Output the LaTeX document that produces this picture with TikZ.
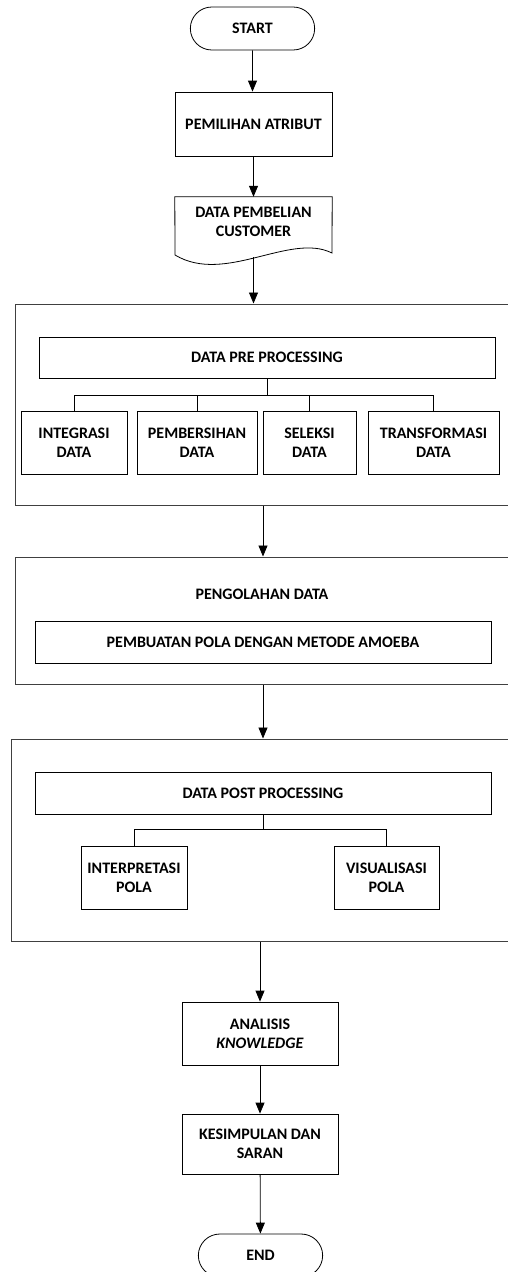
\documentclass[tikz,border=0pt]{standalone}
\usepackage{fontspec}
\setmainfont{Carlito}
\usetikzlibrary{arrows.meta,shapes.misc}

\tikzset{
  box/.style={draw, line width=0.8pt, align=center, inner sep=1pt},
  term/.style={draw, line width=0.8pt, rounded rectangle, minimum width=131, minimum height=43},
  outer/.style={draw=black!75, line width=1pt},
  arr/.style={-{Triangle[length=11pt,width=9pt]}, line width=0.8pt},
  bus/.style={line width=0.8pt}
}

\begin{document}
\begin{tikzpicture}[x=1pt, y=1pt, font=\fontsize{16}{19}\selectfont\bfseries]
\useasboundingbox (0,0) rectangle (507,-1272);

\node[term] (start) at (252.5,-28.5) {START};
\node[box, minimum width=157, minimum height=64] (atribut) at (253.5,-124) {PEMILIHAN ATRIBUT};
\node[align=center, minimum width=157, minimum height=50] (doc) at (253.5,-222) {DATA PEMBELIAN\\CUSTOMER};
\draw[line width=0.8pt] (doc.north west) -- (doc.north east) -- (332,-253)
  .. controls (290,-232) and (225,-285) .. (175,-255) -- cycle;
\coordinate (docb) at (253.5,-257);

% data pre processing
\node[outer, minimum width=496, minimum height=201] (pre) at (263,-404.5) {};
\node[box, minimum width=456, minimum height=41] (pp) at (267,-357.5) {DATA PRE PROCESSING};
\coordinate (bus1) at (267,-395);
\node[box, minimum width=106, minimum height=63] (integ) at (74,-442.5) {INTEGRASI\\DATA};
\node[box, minimum width=120, minimum height=63] (bersih) at (197,-442.5) {PEMBERSIHAN\\DATA};
\node[box, minimum width=93, minimum height=63] (seleksi) at (309.5,-442.5) {SELEKSI\\DATA};
\node[box, minimum width=131, minimum height=63] (trans) at (433.5,-442.5) {TRANSFORMASI\\DATA};
\draw[bus] (pp.south) -- (bus1);
\foreach \n in {integ,bersih,seleksi,trans}{
  \draw[bus] (\n.north) |- (bus1);
}

% pengolahan data
\node[outer, minimum width=496, minimum height=127] (olah) at (263,-620.5) {};
\node (olahlbl) at (262,-594) {PENGOLAHAN DATA};
\node[box, minimum width=456, minimum height=42] (amoeba) at (263,-642) {PEMBUATAN POLA DENGAN METODE AMOEBA};

% data post processing
\node[outer, minimum width=504, minimum height=202] (post) at (263,-840) {};
\node[box, minimum width=456, minimum height=42] (dpp) at (263,-793) {DATA POST PROCESSING};
\coordinate (bus2) at (263,-829);
\node[box, minimum width=106, minimum height=63] (interp) at (134,-877.5) {INTERPRETASI\\POLA};
\node[box, minimum width=105, minimum height=63] (visual) at (386.5,-877.5) {VISUALISASI\\POLA};
\draw[bus] (dpp.south) -- (bus2);
\foreach \n in {interp,visual}{
  \draw[bus] (\n.north) |- (bus2);
}

\node[box, minimum width=156, minimum height=63] (analisis) at (260,-1033.5) {ANALISIS\\\textit{KNOWLEDGE}};
\node[box, minimum width=156, minimum height=60] (simpul) at (260,-1144) {KESIMPULAN DAN\\SARAN};
\node[term] (end) at (260.5,-1255.5) {END};

% arrows
\draw[arr] (start) -- (start |- atribut.north);
\draw[arr] (atribut) -- (atribut |- doc.north);
\draw[arr] (docb) -- (docb |- pre.north);
\draw[arr] (pre.south) -- (olah.north);
\draw[arr] (olah.south) -- (post.north);
\draw[arr] (post.south -| analisis) -- (analisis.north);
\draw[arr] (analisis) -- (simpul);
\draw[arr] (simpul) -- (end);
\end{tikzpicture}
\end{document}
